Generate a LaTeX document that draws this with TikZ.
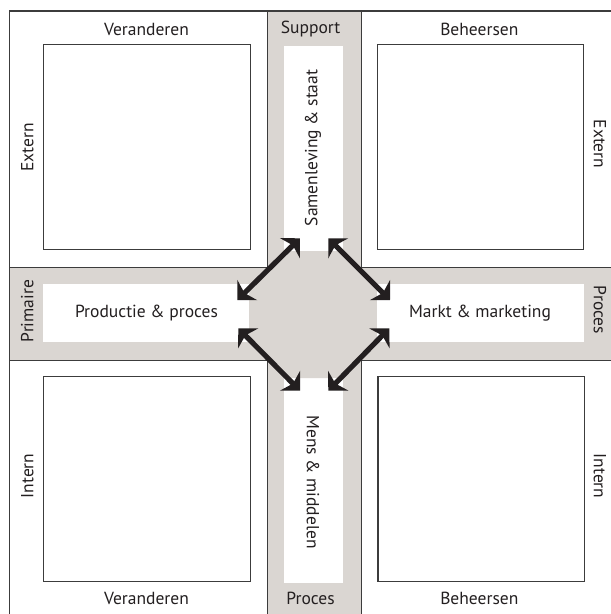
\documentclass[tikz,border=0pt]{standalone}
\usepackage{fontspec}
\setmainfont{PT Sans}
\usetikzlibrary{arrows.meta}
\definecolor{band}{RGB}{218,214,210}
\definecolor{ink}{RGB}{35,31,32}
\definecolor{rule}{RGB}{60,60,60}
\begin{document}
\begin{tikzpicture}[x=1pt,y=-1pt,
  frame/.style={draw=rule,line width=1.3pt},
  box/.style={draw=rule,line width=1.1pt,fill=white,minimum width=206.6pt,minimum height=205pt,inner sep=0pt},
  lbl/.style={text=ink,font=\fontsize{17.5}{19}\selectfont,inner sep=0pt},
  arr/.style={<->,draw=ink,line width=5.2pt,>={Stealth[length=14pt,width=28pt,inset=4pt]}}]
\clip (0,0) rectangle (611,614);
\fill[white] (0,0) rectangle (611,614);
% grey cross of the two bands
\fill[band] (267.3,11) rectangle (361.3,620);
\fill[band] (9.4,267.3) rectangle (620,360.5);
% white strips in the bands
\fill[white] (284,46) rectangle (342.6,251.4);
\fill[white] (284,378) rectangle (342.6,583);
\fill[white] (42.9,283.7) rectangle (249.4,341.8);
\fill[white] (376.8,283.7) rectangle (583.8,341.8);
% central octagon
\fill[band] (297,251.4) -- (329.5,251.4) -- (376.8,298.7) -- (376.8,330.7)
  -- (329.5,378) -- (297,378) -- (249.4,330.4) -- (249.4,298.8) -- cycle;
% outer frame and quadrant borders
\draw[frame] (9.4,11) rectangle (619,617);
\draw[frame] (9.4,11) rectangle (267.3,267.3);
\draw[frame] (361.3,11) rectangle (619,267.3);
\draw[frame] (9.4,360.5) rectangle (267.3,617);
\draw[frame] (361.3,360.5) rectangle (619,617);
% quadrant boxes
\node[box] (tl) at (146.9,147.3) {};
\node[box] (tr) at (480.5,147.3) {};
\node[box] (bl) at (146.9,479.2) {};
\node[box] (br) at (481.3,479.2) {};
% labels
\node[lbl] (vt) at (146.5,29) {Veranderen};
\node[lbl] (bt) at (479.3,29) {Beheersen};
\node[lbl] (sup) at (310.6,29) {Support};
\node[lbl] (vb) at (146.5,598) {Veranderen};
\node[lbl] (bb) at (479.3,598) {Beheersen};
\node[lbl] (pb) at (310.6,598) {Proces};
\node[lbl,rotate=90] (el) at (27.3,147.3) {Extern};
\node[lbl,rotate=-90] (er) at (600,144) {Extern};
\node[lbl,rotate=90] (il) at (27.3,476) {Intern};
\node[lbl,rotate=-90] (ir) at (600,476) {Intern};
\node[lbl,rotate=90] (pri) at (27.3,311) {Primaire};
\node[lbl,rotate=-90] (pro) at (600,310) {Proces};
\node[lbl,rotate=90] (sam) at (313,148) {Samenleving \& staat};
\node[lbl,rotate=-90] (mens) at (313,482) {Mens \& middelen};
\node[lbl] (prod) at (146.5,313) {Productie \& proces};
\node[lbl] (mark) at (480,313) {Markt \& marketing};
% arrow end points
\coordinate (a1) at (237.3,300);
\coordinate (a2) at (300,238.3);
\coordinate (b1) at (328.3,238.3);
\coordinate (b2) at (390,300);
\coordinate (c1) at (238.3,328.3);
\coordinate (c2) at (300,390.7);
\coordinate (d1) at (328.3,390.7);
\coordinate (d2) at (389.3,328.3);
\draw[arr] (a1) -- (a2);
\draw[arr] (b1) -- (b2);
\draw[arr] (c1) -- (c2);
\draw[arr] (d1) -- (d2);
\end{tikzpicture}
\end{document}
